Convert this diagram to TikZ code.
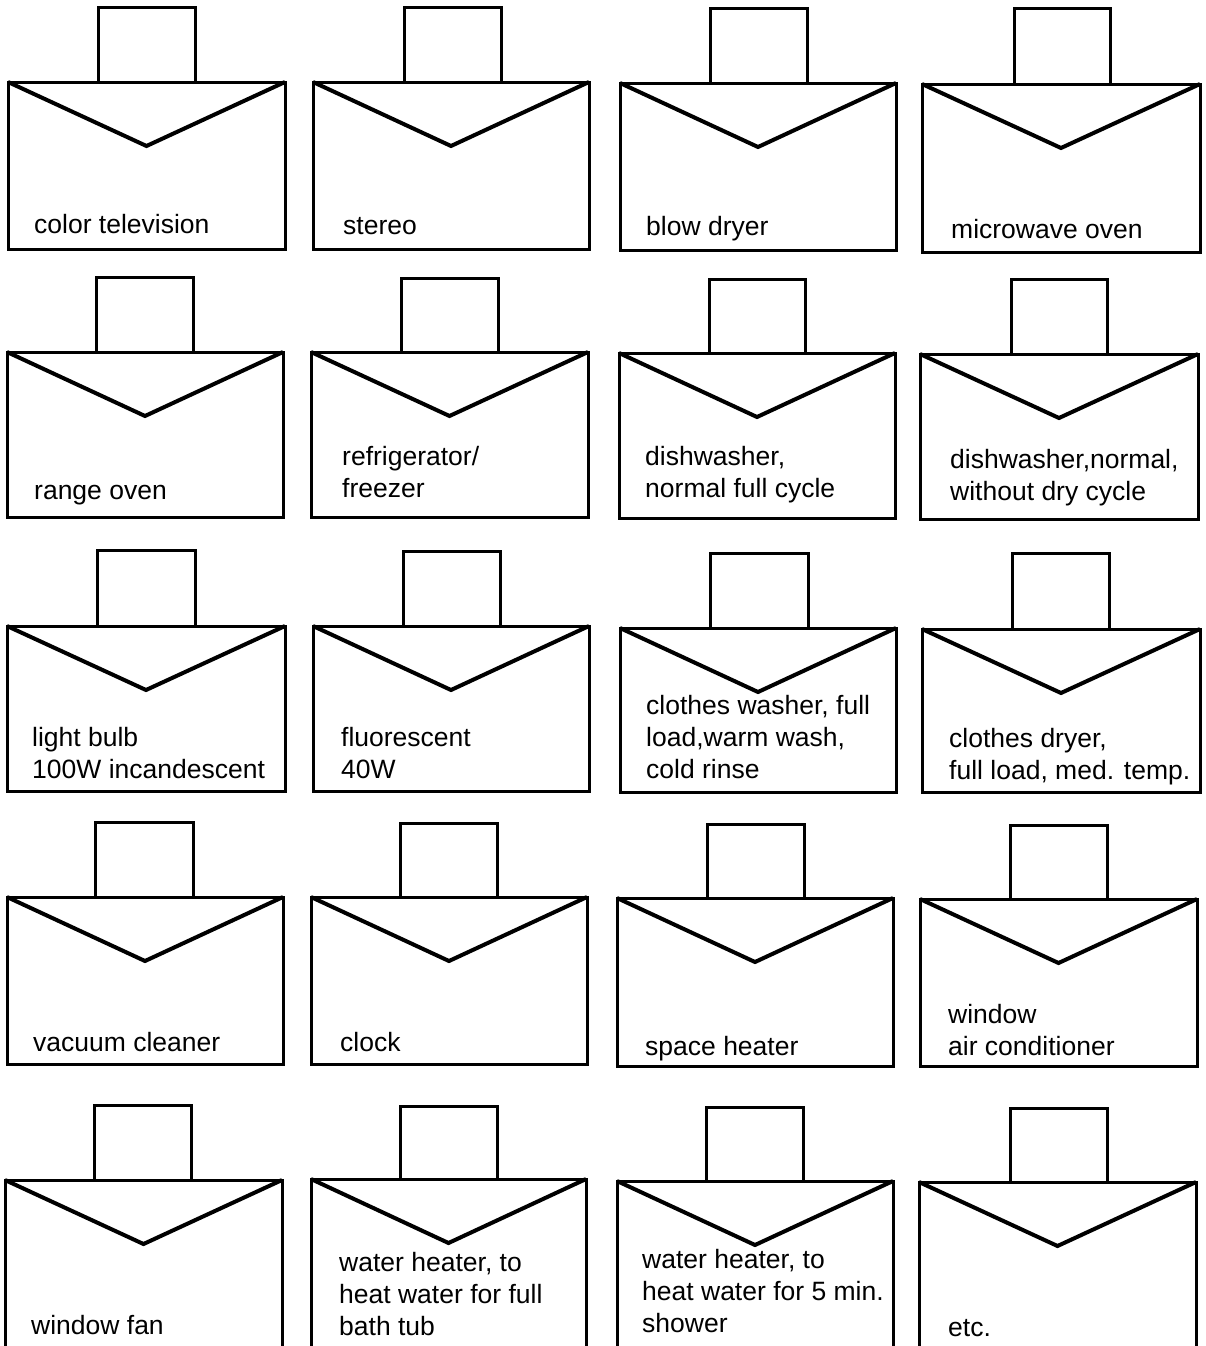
\documentclass[tikz,border=0pt]{standalone}
\usepackage{fontspec}
\setmainfont{Liberation Sans}
\usetikzlibrary{calc}
\tikzset{
  box/.style={line width=3pt, line join=miter},
  flap/.style={line width=4pt, line join=miter},
  lbl/.style={anchor=base west, inner sep=0pt, align=left,
    font=\fontsize{26.5}{32}\selectfont}
}
% #1 name, #2 left, #3 right, #4 tab left, #5 tab right, #6 top, #7 bottom, #8 tab top
\newcommand\envcell[8]{%
  \coordinate (#1-tl) at (#2,#6);
  \coordinate (#1-tr) at (#3,#6);
  \coordinate (#1-bl) at (#2,#7);
  \coordinate (#1-br) at (#3,#7);
  \coordinate (#1-v) at ($(#1-tl)!0.5!(#1-tr)+(0,64)$);
  \draw[box] (#1-bl) -- (#1-tl) -- (#1-tr) -- (#1-br) -- cycle;
  \draw[box] (#4,#6) |- (#5,#8) -- (#5,#6);
  \draw[flap] (#1-tl) -- (#1-v) -- (#1-tr);
}
\newcommand\envopen[7]{%
  \coordinate (#1-tl) at (#2,#6);
  \coordinate (#1-tr) at (#3,#6);
  \coordinate (#1-bl) at (#2,1360);
  \coordinate (#1-br) at (#3,1360);
  \coordinate (#1-v) at ($(#1-tl)!0.5!(#1-tr)+(0,64)$);
  \draw[box] (#1-bl) -- (#1-tl) -- (#1-tr) -- (#1-br);
  \draw[box] (#4,#6) |- (#5,#7) -- (#5,#6);
  \draw[flap] (#1-tl) -- (#1-v) -- (#1-tr);
}
\begin{document}
\begin{tikzpicture}[x=1pt,y=-1pt]
\useasboundingbox (0,0) rectangle (1206,1346);
\clip (0,0) rectangle (1206,1346);
\fill[white] (0,0) rectangle (1206,1346);
% row 1
\envcell{a1}{8}{285}{98}{195}{82}{249}{8}
\envcell{a2}{313}{589}{404}{501}{82}{249}{8}
\envcell{a3}{620}{896}{710}{807}{83}{250}{9}
\envcell{a4}{922}{1200}{1014}{1110}{84}{252}{9}
% row 2
\envcell{b1}{7}{283}{96}{193}{352}{517}{277}
\envcell{b2}{311}{588}{401}{498}{352}{517}{278}
\envcell{b3}{619}{895}{709}{805}{353}{518}{279}
\envcell{b4}{920}{1198}{1011}{1107}{354}{519}{279}
% row 3
\envcell{c1}{7}{285}{97}{195}{626}{791}{550}
\envcell{c2}{313}{589}{403}{500}{626}{791}{551}
\envcell{c3}{620}{896}{710}{808}{628}{792}{553}
\envcell{c4}{922}{1200}{1012}{1109}{629}{792}{553}
% row 4
\envcell{d1}{7}{283}{95}{193}{897}{1064}{822}
\envcell{d2}{311}{587}{400}{497}{897}{1064}{823}
\envcell{d3}{617}{893}{707}{804}{898}{1066}{824}
\envcell{d4}{920}{1197}{1010}{1107}{899}{1066}{825}
% row 5 (cut at the bottom)
\envopen{e1}{5}{282}{94}{191}{1180}{1105}
\envopen{e2}{311}{586}{400}{497}{1179}{1106}
\envopen{e3}{617}{893}{706}{803}{1181}{1107}
\envopen{e4}{919}{1196}{1010}{1107}{1182}{1108}
% labels (anchor = baseline of the last line)
\node[lbl] (ta1) at (34,233) {color television};
\node[lbl] (ta2) at (343,234) {stereo};
\node[lbl] (ta3) at (646,235) {blow dryer};
\node[lbl] (ta4) at (951,238) {microwave oven};
\node[lbl] (tb1) at (34,499) {range oven};
\node[lbl] (tb2) at (342,497) {refrigerator/\\freezer};
\node[lbl] (tb3) at (645,497) {dishwasher,\\normal full cycle};
\node[lbl] (tb4) at (950,500) {dishwasher,normal,\\without dry cycle};
\node[lbl] (tc1) at (32,778) {light bulb\\100W incandescent};
\node[lbl] (tc2) at (341,778) {fluorescent\\40W};
\node[lbl] (tc3) at (646,778) {clothes washer, full\\load,warm wash,\\cold rinse};
\node[lbl] (tc4) at (949,779) {clothes dryer,\\full load, med. temp.};
\node[lbl] (td1) at (33,1051) {vacuum cleaner};
\node[lbl] (td2) at (340,1051) {clock};
\node[lbl] (td3) at (645,1055) {space heater};
\node[lbl] (td4) at (948,1055) {window\\air conditioner};
\node[lbl] (te1) at (31,1334) {window fan};
\node[lbl] (te2) at (339,1335) {water heater, to\\heat water for full\\bath tub};
\node[lbl] (te3) at (642,1332) {water heater, to\\heat water for 5 min.\\shower};
\node[lbl] (te4) at (948,1336) {etc.};
\end{tikzpicture}
\end{document}
